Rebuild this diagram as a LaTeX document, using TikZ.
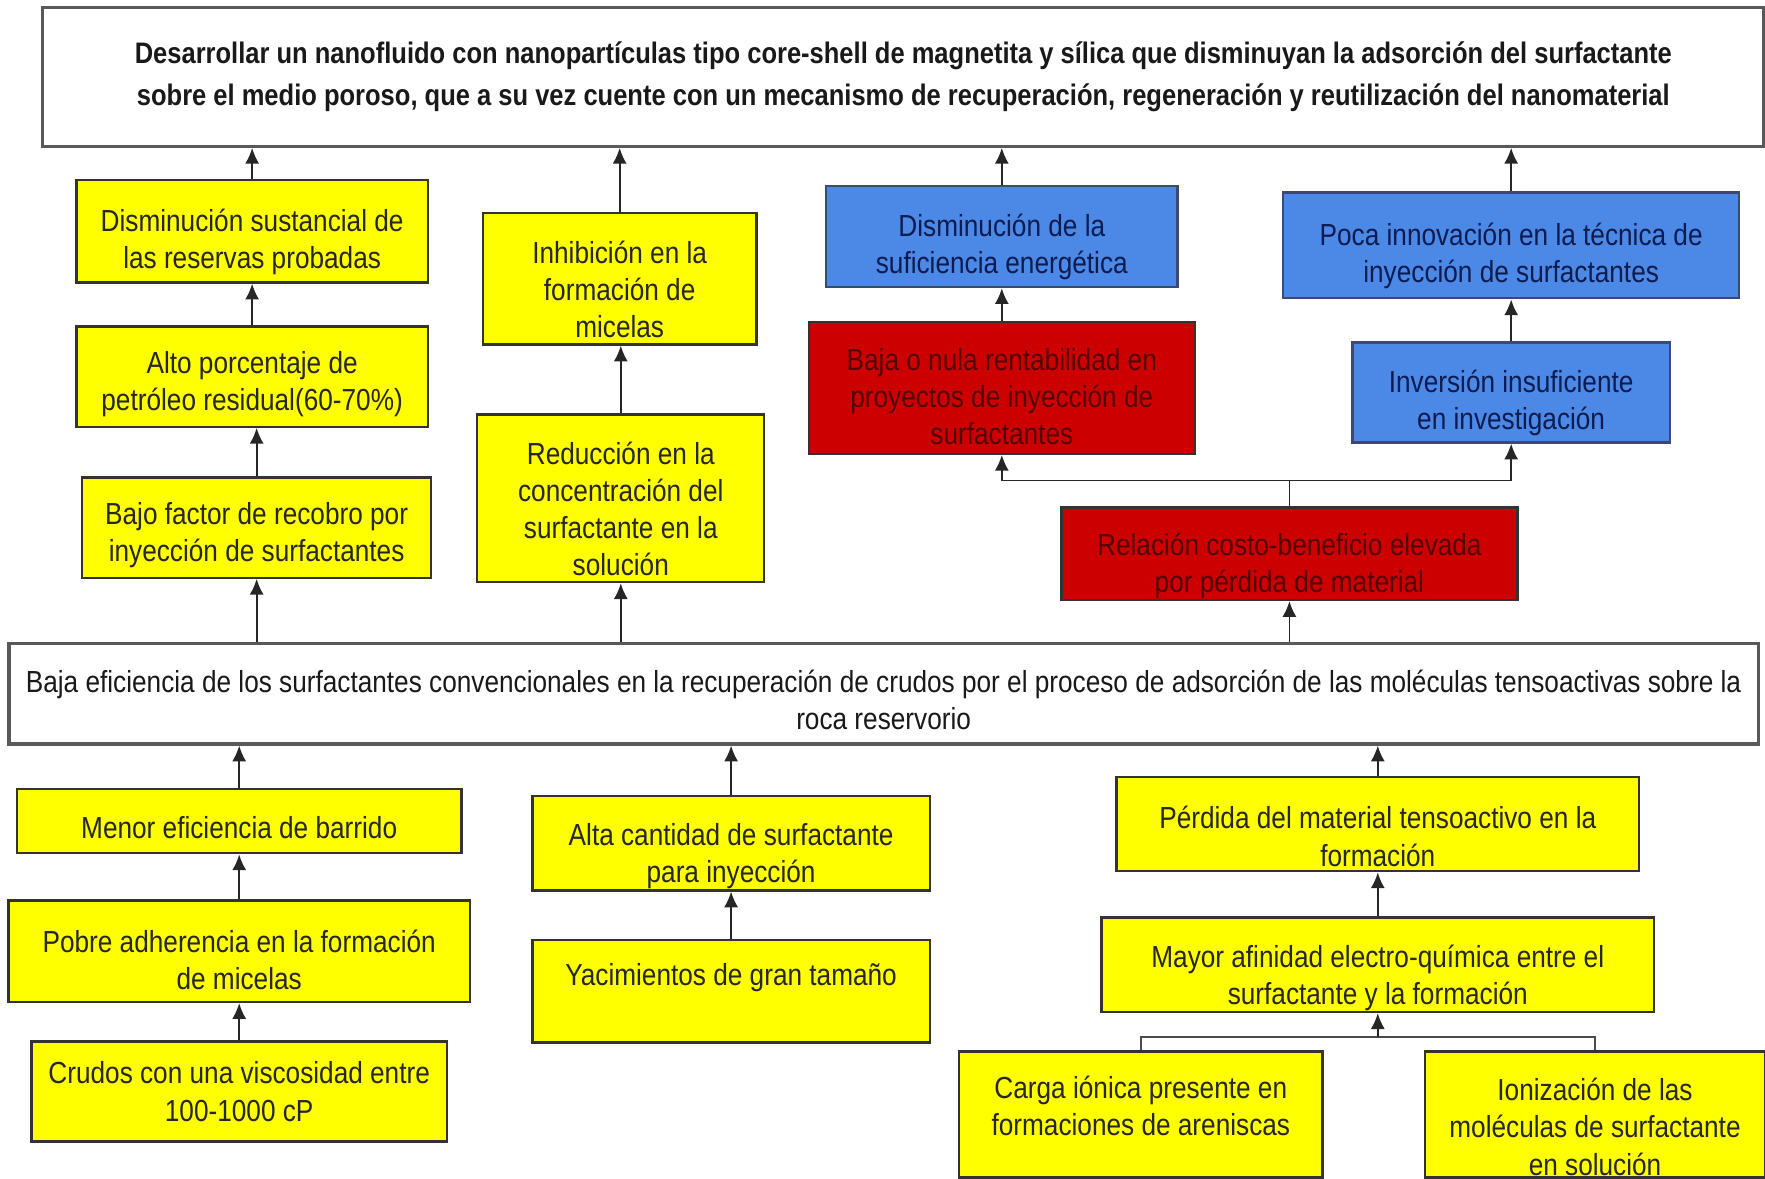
\documentclass[tikz,border=0pt]{standalone}
\usepackage{fontspec}
\setmainfont{Liberation Sans}[FakeStretch=0.86]
\usepackage{tikz}
\usetikzlibrary{arrows.meta, positioning}
\definecolor{causeyellow}{RGB}{255,255,0}
\definecolor{effectblue}{RGB}{76,136,230}
\definecolor{effectred}{RGB}{204,0,0}
\definecolor{redtext}{RGB}{85,0,0}
\definecolor{bluetext}{RGB}{12,28,80}
% taller first line, so the text sits a little low in its box
\newcommand{\lowline}[1][11pt]{\rule{0pt}{#1}}
\tikzset{
  framebox/.style={
    rectangle, draw=black!65, line width=0.8pt, fill=white,
    align=center, inner sep=2pt, text=black!90
  },
  causebox/.style={
    rectangle, draw=black!80, line width=0.6pt, fill=causeyellow,
    align=center, inner sep=0pt, text=black!85,
    font=\fontsize{7.7}{9.4}\selectfont
  },
  bluebox/.style={
    causebox, fill=effectblue, draw=bluetext!80, text=bluetext
  },
  redbox/.style={
    causebox, fill=effectred, text=redtext
  },
  arrow/.style={-{Latex[length=1.4mm,width=1.25mm]}, line width=0.45pt, draw=black!85},
  link/.style={line width=0.45pt, draw=black!70}
}
\begin{document}
\begin{tikzpicture}[x=0.1mm, y=-0.1mm]
\useasboundingbox (0,0) rectangle (1568,1047);

% goal and central problem
\node[framebox, minimum width=152.9mm, minimum height=12.3mm,
      font=\fontsize{7.5}{10.6}\selectfont\bfseries] (goal) at (802.5,68.5)
  {Desarrollar un nanofluido con nanopartículas tipo core-shell de magnetita y sílica que disminuyan la adsorción del surfactante\\
   sobre el medio poroso, que a su vez cuente con un mecanismo de recuperación, regeneración y reutilización del nanomaterial};
\node[framebox, minimum width=155.4mm, minimum height=8.9mm,
      font=\fontsize{7.7}{9.4}\selectfont] (base) at (785,616.5)
  {\lowline[8.5pt]Baja eficiencia de los surfactantes convencionales en la recuperación de crudos por el proceso de adsorción de las moléculas tensoactivas sobre la\\
   roca reservorio};

% effects
\node[causebox, minimum width=31.2mm, minimum height=9.1mm] (reserves) at (224,205.5)
  {\lowline Disminución sustancial de\\las reservas probadas};
\node[causebox, below=3.7mm of reserves, minimum width=31.2mm, minimum height=8.9mm] (residual)
  {\lowline[9.5pt]Alto porcentaje de\\petróleo residual(60-70\%)};
\node[causebox, below=4.3mm of residual, xshift=0.4mm, minimum width=31mm, minimum height=8.9mm] (recovery)
  {\lowline[9.5pt]Bajo factor de recobro por\\inyección de surfactantes};

\node[causebox, minimum width=24.3mm, minimum height=11.7mm] (micelles) at (550.5,247.5)
  {\lowline Inhibición en la\\formación de\\micelas};
\node[causebox, below=6mm of micelles, xshift=0.1mm, minimum width=25.5mm, minimum height=14.9mm] (conc)
  {\lowline Reducción en la\\concentración del\\surfactante en la\\solución};

\node[bluebox, minimum width=31.2mm, minimum height=9mm] (energy) at (890,210)
  {\lowline Disminución de la\\suficiencia energética};
\node[redbox, below=2.9mm of energy, minimum width=34.3mm, minimum height=11.7mm] (profit)
  {\lowline[10pt]Baja o nula rentabilidad en\\proyectos de inyección de\\surfactantes};

\node[bluebox, minimum width=40.5mm, minimum height=9.4mm] (innov) at (1342.5,218)
  {\lowline Poca innovación en la técnica de\\inyección de surfactantes};
\node[bluebox, below=3.7mm of innov, minimum width=28.2mm, minimum height=8.9mm] (invest)
  {\lowline Inversión insuficiente\\en investigación};

\node[redbox, minimum width=40.5mm, minimum height=8.2mm] (cost) at (1145.5,492)
  {\lowline[12pt]Relación costo-beneficio elevada\\por pérdida de material};

% causes
\node[causebox, minimum width=39.5mm, minimum height=5.7mm] (sweep) at (212.5,729.5)
  {\lowline[9pt]Menor eficiencia de barrido};
\node[causebox, below=4mm of sweep, minimum width=41mm, minimum height=9mm] (adher)
  {\lowline[10pt]Pobre adherencia en la formación\\de micelas};
\node[causebox, below=3.3mm of adher, minimum width=36.9mm, minimum height=8.9mm] (visc)
  {Crudos con una viscosidad entre\\100-1000 cP};

\node[causebox, minimum width=35.3mm, minimum height=8.4mm] (amount) at (649.5,749)
  {\lowline[12pt]Alta cantidad de surfactante\\para inyección};
\node[causebox, text depth=8.4pt, below=4.2mm of amount, minimum width=35.3mm, minimum height=9.1mm] (size)
  {Yacimientos de gran tamaño};

\node[causebox, minimum width=46.4mm, minimum height=8.4mm] (loss) at (1224,732)
  {\lowline[12pt]Pérdida del material tensoactivo en la\\formación};
\node[causebox, below=3.9mm of loss, minimum width=49.1mm, minimum height=8.4mm] (affinity)
  {\lowline[12.5pt]Mayor afinidad electro-química entre el\\surfactante y la formación};
\node[causebox, text depth=4.4pt, minimum width=32.3mm, minimum height=11.2mm] (charge) at (1013.5,990)
  {Carga iónica presente en\\formaciones de areniscas};
\node[causebox, minimum width=30.2mm, minimum height=11.2mm] (ioniz) at (1417,990)
  {\lowline[12pt]Ionización de las\\moléculas de surfactante\\en solución};

% upward arrows
\foreach \lo/\up in {reserves/goal, residual/reserves, recovery/residual,
                     micelles/goal, conc/micelles, energy/goal, profit/energy,
                     innov/goal, invest/innov, sweep/base, adher/sweep, visc/adher,
                     amount/base, size/amount, loss/base, affinity/loss} {
  \draw[arrow] (\lo.north) -- (\lo.north |- \up.south);
}
\foreach \up in {recovery, conc, cost} {
  \draw[arrow] (\up.south |- base.north) -- (\up.south);
}

% branches
\draw[arrow] (cost.north) -- ++(0,2.3mm) -| (profit.south);
\draw[arrow] (cost.north) -- ++(0,2.3mm) -| (invest.south);
\draw[link] (charge.north) -- ++(0,1.2mm) -| (ioniz.north);
\draw[arrow] ([yshift=1.2mm]affinity.south |- charge.north) -- (affinity.south);

\end{tikzpicture}
\end{document}
